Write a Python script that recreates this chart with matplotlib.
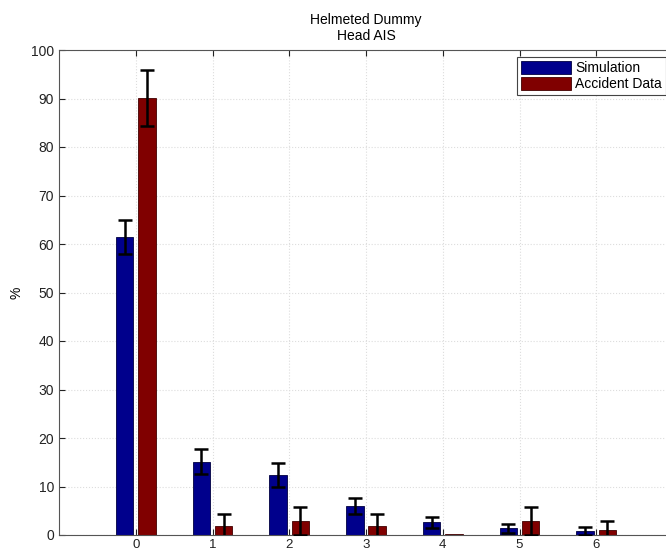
import numpy as np
import matplotlib
matplotlib.use('Agg')
import matplotlib.pyplot as plt

plt.rcParams['font.family'] = ['Liberation Sans', 'DejaVu Sans']

# Dados
niveis_ais = [0, 1, 2, 3, 4, 5, 6]
simulacao = [61.4, 15.1, 12.3, 6.0, 2.6, 1.4, 0.8]
erro_simulacao = [3.5, 2.6, 2.5, 1.7, 1.2, 0.9, 0.8]
acidentes = [90.1, 1.8, 2.9, 1.8, 0.2, 2.9, 1.0]
erro_acidentes = [5.7, 2.6, 2.9, 2.6, np.nan, 2.9, 1.8]

cor_sim = '#00008c'
cor_aci = '#800000'
largura = 0.23
desloc = 0.145

fig = plt.figure(figsize=(6.66, 5.53), dpi=100)
ax = fig.add_axes([59/666., 1-535/553., (673-59)/666., (535-50)/553.])

x = np.array(niveis_ais)
ax.bar(x - desloc, simulacao, largura, color=cor_sim, edgecolor='#000040',
       linewidth=0.6, label='Simulation', zorder=2)
ax.bar(x + desloc, acidentes, largura, color=cor_aci, edgecolor='#400000',
       linewidth=0.6, label='Accident Data', zorder=2)
ax.errorbar(x - desloc, simulacao, yerr=erro_simulacao, fmt='none', ecolor='k',
            elinewidth=1.8, capsize=5, capthick=1.8, zorder=3)
ax.errorbar(x + desloc, acidentes, yerr=erro_acidentes, fmt='none', ecolor='k',
            elinewidth=1.8, capsize=5, capthick=1.8, zorder=3)

ax.set_xlim(-1, 7)
ax.set_ylim(0, 100)
ax.set_xticks(niveis_ais)
ax.set_yticks(np.arange(0, 101, 10))
ax.tick_params(direction='in', top=True, right=True, labelsize=10, colors='#222222', length=4)
ax.tick_params(axis='x', labelsize=9.5, pad=3)
ax.grid(True, color='#dddddd', linestyle=':', linewidth=0.8, zorder=0)
ax.set_axisbelow(True)
for s in ax.spines.values():
    s.set_color('#555555')
    s.set_linewidth(0.8)

ax.set_ylabel('%', fontsize=10)
ax.yaxis.set_label_coords(-0.058, 0.5)
ax.set_title('Helmeted Dummy\nHead AIS', fontsize=10, pad=7, linespacing=1.25)

leg = ax.legend(loc='upper right', fontsize=10, fancybox=False, framealpha=1,
                edgecolor='#444444', borderaxespad=0.5, handlelength=3.6,
                handleheight=1.1, borderpad=0.3, labelspacing=0.1, handletextpad=0.3)
leg.get_frame().set_linewidth(0.8)

fig.savefig('out.png', dpi=100)
